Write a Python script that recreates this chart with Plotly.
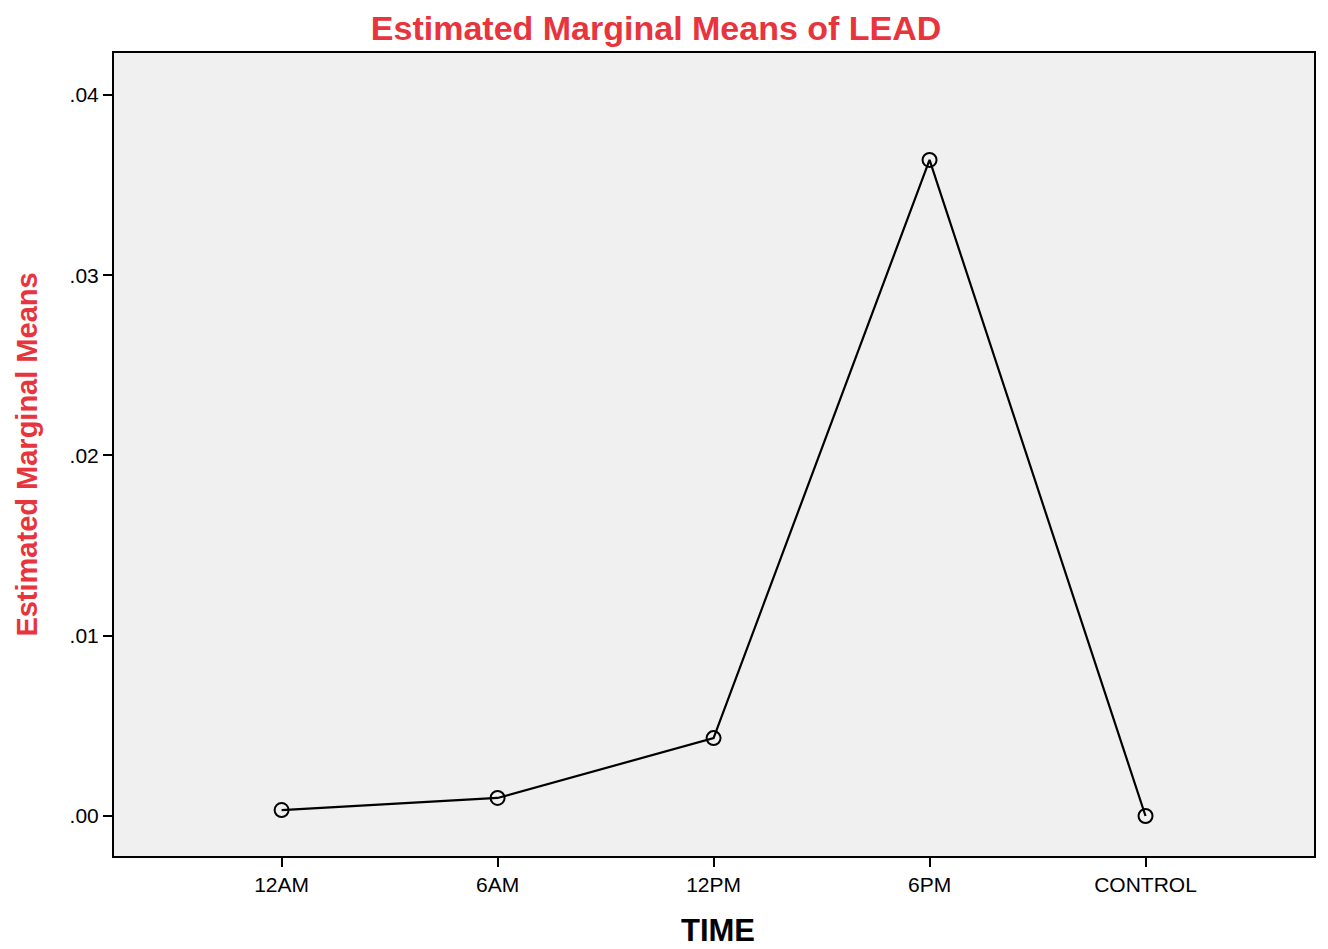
import plotly.graph_objects as go

# category labels and estimated marginal means
time_labels = ['12AM', '6AM', '12PM', '6PM', 'CONTROL']
lead_means = [0.00033, 0.0010, 0.00432, 0.0364, 0.0000]

y_ticks = [0.00, 0.01, 0.02, 0.03, 0.04]
y_tick_text = ['.00', '.01', '.02', '.03', '.04']

fig = go.Figure()
fig.add_trace(go.Scatter(
    x=list(range(len(time_labels))), y=lead_means,
    mode='lines+markers',
    line=dict(color='black', width=2.2),
    marker=dict(symbol='circle-open', size=14, color='black', line=dict(width=2)),
    showlegend=False))

# page body adds an 8px margin, so the figure is a bit smaller and shifted
fig.update_layout(
    width=1320, height=941,
    paper_bgcolor='white', plot_bgcolor='#f0f0f0',
    margin=dict(l=106, r=12, t=45, b=93),
    font=dict(family='Liberation Sans, Arial', color='black'),
    title=dict(text='<b>Estimated Marginal Means of LEAD</b>',
               font=dict(size=34, color='#e8343c'),
               x=0.491, xanchor='center', y=0.979, yanchor='middle'),
    xaxis=dict(range=[-0.776, 4.78], tickvals=list(range(len(time_labels))),
               ticktext=time_labels, showgrid=False, zeroline=False,
               showline=True, linecolor='black', linewidth=2, mirror=True,
               ticks='outside', ticklen=9, tickwidth=2, tickcolor='black',
               tickfont=dict(size=21)),
    yaxis=dict(range=[-0.00222, 0.04233], tickvals=y_ticks, ticktext=y_tick_text,
               showgrid=False, zeroline=False,
               showline=True, linecolor='black', linewidth=2, mirror=True,
               ticks='outside', ticklen=9, tickwidth=2, tickcolor='black',
               tickfont=dict(size=21),
               title=dict(text='<b>Estimated Marginal Means</b>',
                          font=dict(size=29, color='#e8343c'), standoff=23)),
)

# x axis title as an annotation so it does not grow the bottom margin
fig.add_annotation(text='<b>TIME</b>', xref='paper', yref='paper',
                   x=0.503, y=-0.093, xanchor='center', yanchor='middle',
                   showarrow=False, font=dict(size=31, color='black'))

fig.write_html('out.html')
